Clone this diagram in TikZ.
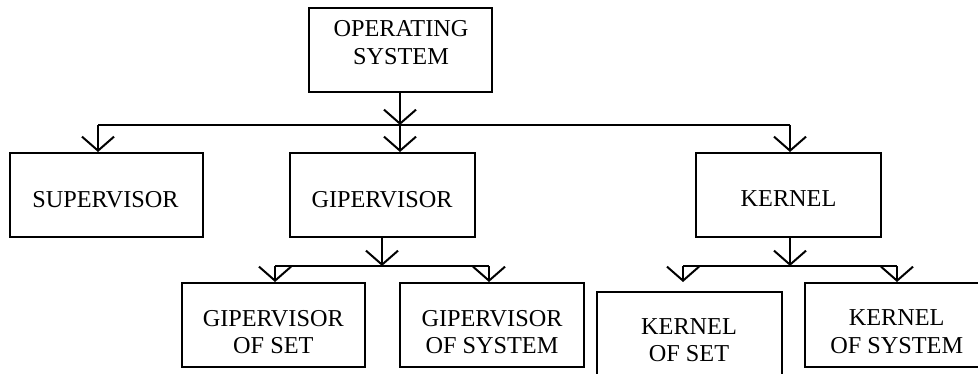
\documentclass[tikz,border=0pt]{standalone}
\usepackage{fontspec}
\setmainfont{Liberation Serif}
\usetikzlibrary{arrows.meta}
\begin{document}
\begin{tikzpicture}[x=0.75pt, y=-0.75pt,
  line width=1.5pt,
  blk/.style={draw, rectangle, line width=1.5pt, inner sep=0pt,
              minimum width=#1*0.75pt, minimum height=84*0.75pt},
  blk/.default=184,
  lbl/.style={inner sep=0pt, align=center,
              font=\fontsize{18.2pt}{20.4pt}\selectfont},
  arr/.style={-{Straight Barb[length=10.5pt, width=24pt]}}]
  \clip (0,0) rectangle (978,374);

  % blocks of the operating system tree
  \node[blk=183] (os)   at (400.5,50)  {};
  \node[blk=193] (sup)  at (106.5,195) {};
  \node[blk=185] (gip)  at (382.5,195) {};
  \node[blk=185] (ker)  at (788.5,195) {};
  \node[blk=183] (gset) at (273.5,325) {};
  \node[blk=184] (gsys) at (492,325)   {};
  \node[blk=185, minimum height=96*0.75pt] (kset) at (689.5,340) {};
  \node[blk=183] (ksys) at (896.5,325) {};

  % labels
  \node[lbl] (os-t)   at (401,42.5)    {OPERATING\\SYSTEM};
  \node[lbl] (sup-t)  at (105.5,199.5) {SUPERVISOR};
  \node[lbl] (gip-t)  at (382,199.5)   {GIPERVISOR};
  \node[lbl] (ker-t)  at (788.5,199)   {KERNEL};
  \node[lbl] (gset-t) at (273.3,331.7) {GIPERVISOR\\OF SET};
  \node[lbl] (gsys-t) at (492,331.7)   {GIPERVISOR\\OF SYSTEM};
  \node[lbl] (kset-t) at (689,340)     {KERNEL\\OF SET};
  \node[lbl] (ksys-t) at (896.7,331.7) {KERNEL\\OF SYSTEM};

  % bus below the top block
  \coordinate (busL) at (98,125);
  \coordinate (busM) at (400,125);
  \coordinate (busR) at (790,125);
  \draw (busL) -- (busR);
  \draw[arr] (os.south -| busM) -- (busM);
  \draw[arr] (busL) -- (busL |- sup.north);
  \draw[arr] (busM) -- (busM |- gip.north);
  \draw[arr] (busR) -- (busR |- ker.north);

  % branch under GIPERVISOR
  \coordinate (gbM) at (382,266);
  \coordinate (gbL) at (275,266);
  \coordinate (gbR) at (489,266);
  \draw (gbL) -- (gbR);
  \draw[arr] (gip.south -| gbM) -- (gbM);
  \draw[arr] (gbL) -- (gbL |- gset.north);
  \draw[arr] (gbR) -- (gbR |- gsys.north);

  % branch under KERNEL
  \coordinate (kbM) at (790,266);
  \coordinate (kbL) at (683,266);
  \coordinate (kbR) at (897,266);
  \draw (kbL) -- (kbR);
  \draw[arr] (ker.south -| kbM) -- (kbM);
  \draw[arr] (kbL) -- (kbL |- ksys.north);
  \draw[arr] (kbR) -- (kbR |- ksys.north);
\end{tikzpicture}
\end{document}
